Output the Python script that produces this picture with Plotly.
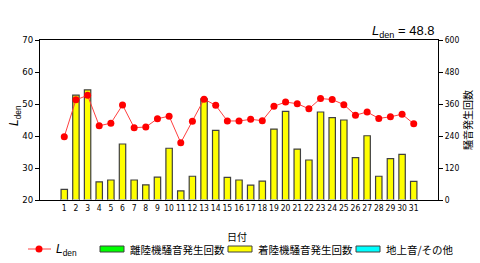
import plotly.graph_objects as go

days = [str(d) for d in range(1, 32)]
ldens = [39.8, 51.3, 52.7, 43.2, 44.0, 49.7, 42.6, 42.8, 45.4, 46.2,
         37.9, 44.6, 51.5, 49.6, 44.7, 44.7, 45.2, 44.8, 49.3, 50.6,
         50.1, 48.5, 51.7, 51.4, 49.8, 46.5, 47.5, 45.5, 46.0, 46.8, 43.8]
takeoff_counts = [0] * 31
landing_counts = [40, 393, 413, 68, 75, 210, 75, 57, 86, 194,
                  34, 89, 379, 261, 85, 75, 56, 71, 266, 332,
                  191, 150, 330, 309, 300, 159, 241, 89, 155, 171, 70]
ground_counts = [0] * 31
ldens_total = 48.8

left_ticks = [20, 30, 40, 50, 60, 70]
right_ticks = [0, 120, 240, 360, 480, 600]

JP = "Noto Sans CJK JP"
NUM = "DejaVu Sans Condensed, sans-serif"

fig = go.Figure()
fig.add_trace(go.Bar(x=days, y=landing_counts, yaxis="y", marker=dict(color="#FFFF00", line=dict(color="#404040", width=1.2)),
                     width=0.55, name="着陸機騒音発生回数", showlegend=False))
fig.add_trace(go.Bar(x=days, y=takeoff_counts, yaxis="y", marker=dict(color="#00FF00"),
                     name="離陸機騒音発生回数", showlegend=False, width=0.55))
fig.add_trace(go.Bar(x=days, y=ground_counts, yaxis="y", marker=dict(color="#00FFFF"),
                     name="地上音/その他", showlegend=False, width=0.55))
fig.add_trace(go.Scatter(x=days, y=ldens, yaxis="y2", mode="lines+markers",
                         line=dict(color="#FF4040", width=1),
                         marker=dict(color="#FF0000", size=7), name="Lden", showlegend=False))

fig.update_layout(
    width=480, height=263,
    margin=dict(l=40, r=42, t=40, b=63),
    paper_bgcolor="white", plot_bgcolor="white",
    barmode="overlay",
    xaxis=dict(type="category", showline=True, linecolor="#000", linewidth=1, mirror=True,
               ticks="", tickangle=0, automargin=False,
               tickfont=dict(family=NUM, size=8.5, color="#000"), showgrid=False),
    yaxis=dict(side="right", range=[0, 600], tickvals=right_ticks, showline=True, linecolor="#000",
               ticks="outside", ticklen=4, tickcolor="#000", showgrid=False, zeroline=False,
               automargin=False, tickfont=dict(family=NUM, size=8.5, color="#000")),
    yaxis2=dict(side="left", overlaying="y", range=[20, 70], tickvals=left_ticks, showline=True,
                linecolor="#000", ticks="outside", ticklen=4, tickcolor="#000", showgrid=False,
                zeroline=False, automargin=False, tickfont=dict(family=NUM, size=9.5, color="#000")),
)

def px2paper_x(px):
    return (px - 40) / 398

def px2paper_y(py):
    return (200 - py) / 160

def note(text, px, py, size, family, xanchor="center", angle=0):
    return dict(text=text, x=px2paper_x(px), y=px2paper_y(py), xref="paper", yref="paper",
                xanchor=xanchor, yanchor="middle", textangle=angle, showarrow=False,
                font=dict(family=family, size=size, color="#000"))

ann = []
ann.append(note("<i>L</i><sub>den</sub>", 15, 116, 12, "Liberation Sans", angle=-90))
ann.append(note("騒音発生回数", 467, 120, 10, JP, angle=-90))
ann.append(note("<i>L</i><sub>den</sub> = " + str(ldens_total), 437, 32, 13, "Liberation Sans", xanchor="right"))
ann.append(note("日付", 237, 236, 10, JP))

ly = 249
shapes = []
shapes.append(dict(type="line", xref="paper", yref="paper", x0=px2paper_x(28), x1=px2paper_x(51),
                   y0=px2paper_y(ly), y1=px2paper_y(ly), line=dict(color="#FF4040", width=1)))
shapes.append(dict(type="circle", xref="paper", yref="paper", xsizemode="pixel", ysizemode="pixel",
                   xanchor=px2paper_x(39), yanchor=px2paper_y(ly), x0=-3.5, x1=3.5, y0=-3.5, y1=3.5,
                   fillcolor="#FF0000", line=dict(color="#FF0000", width=0)))
ann.append(note("<i>L</i><sub>den</sub>", 54, ly + 1, 12, "Liberation Sans", xanchor="left"))

legend_items = [(100, "#00FF00", "離陸機騒音発生回数"), (228, "#FFFF00", "着陸機騒音発生回数"),
                (356, "#00FFFF", "地上音/その他")]
for x0, col, label in legend_items:
    shapes.append(dict(type="rect", xref="paper", yref="paper", x0=px2paper_x(x0), x1=px2paper_x(x0 + 24),
                       y0=px2paper_y(ly - 3), y1=px2paper_y(ly + 3), fillcolor=col,
                       line=dict(color="#404040", width=1)))
    ann.append(note(label, x0 + 28, ly, 10.5, JP, xanchor="left"))

fig.update_layout(annotations=ann, shapes=shapes)
fig.write_html("out.html")
